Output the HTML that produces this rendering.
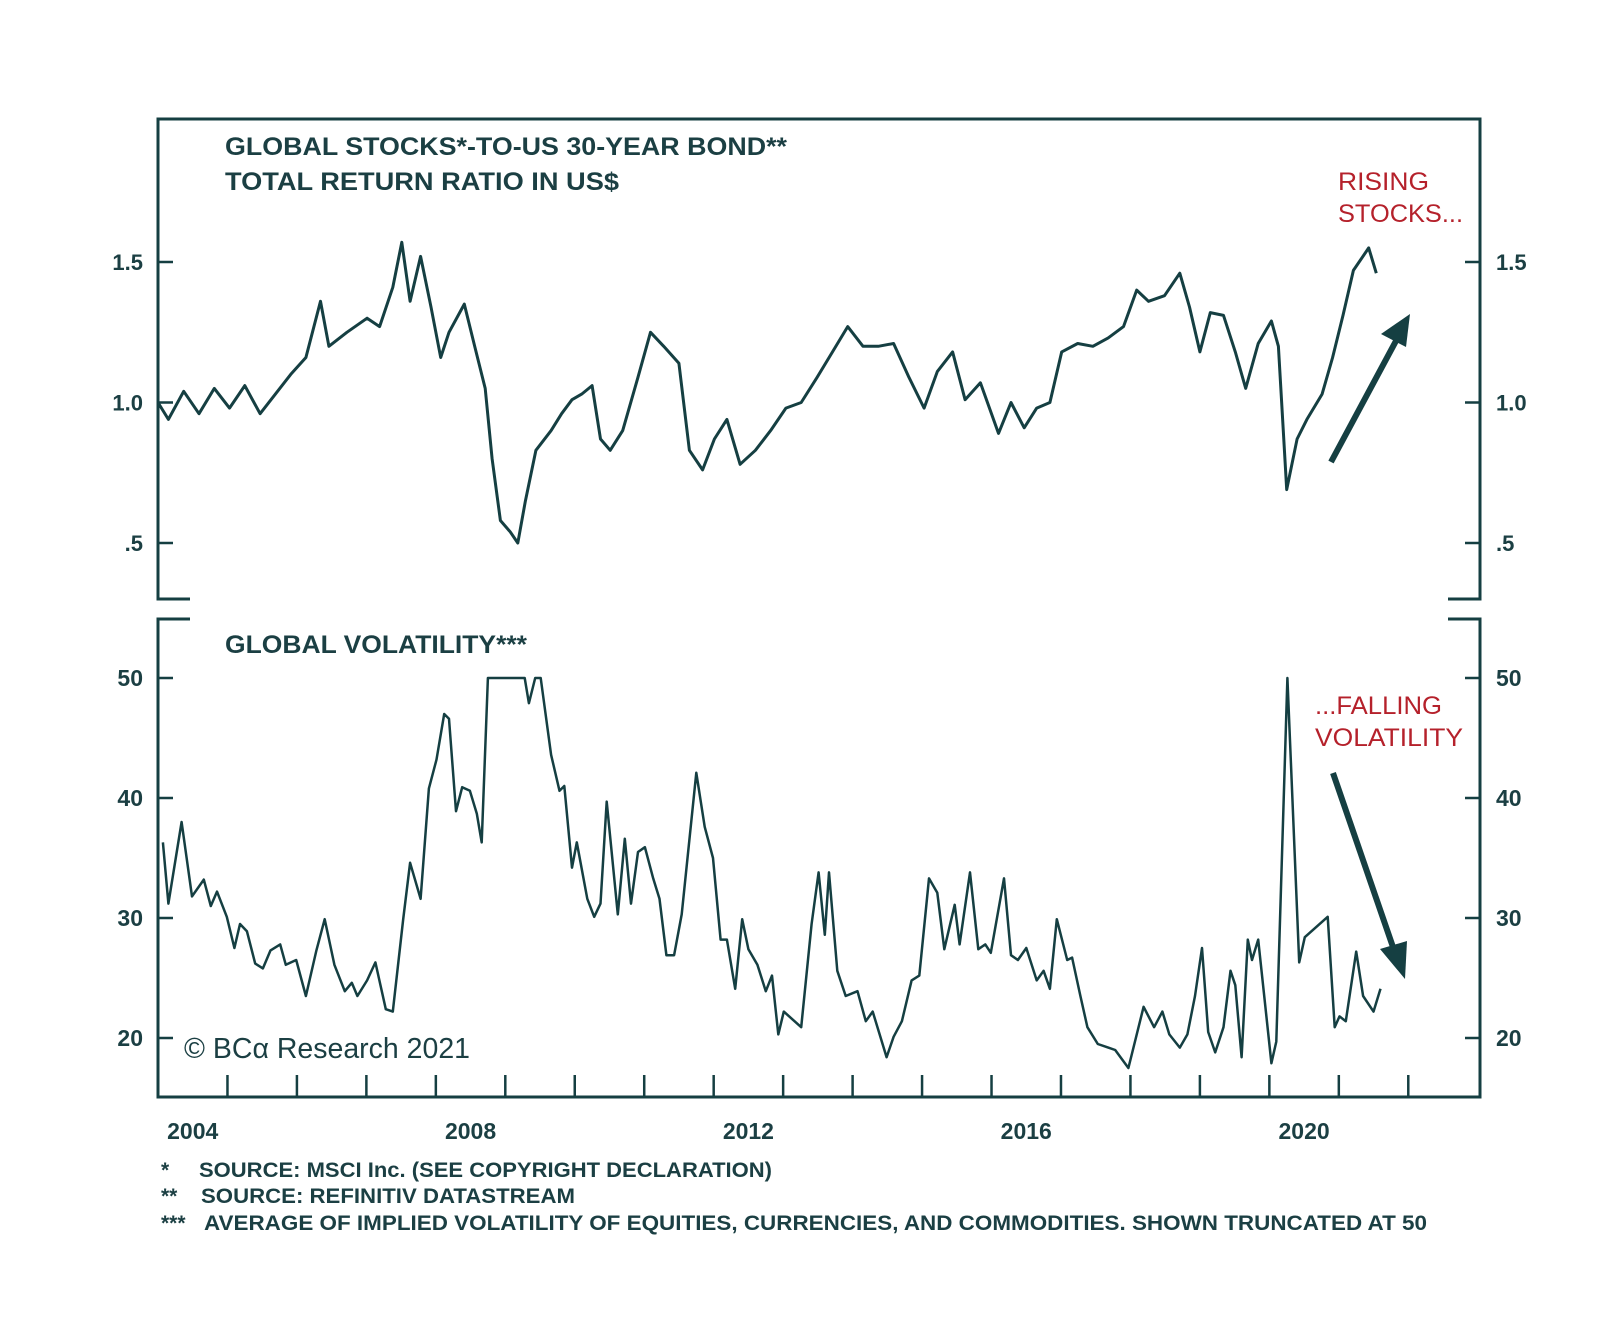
<!DOCTYPE html>
<html><head><meta charset="utf-8"><style>
html,body{margin:0;padding:0;background:#fff;}
svg{display:block;}
text{font-family:"Liberation Sans",sans-serif;}
</style></head>
<body>
<svg id="chart" width="1600" height="1321" viewBox="0 0 1600 1321" xmlns="http://www.w3.org/2000/svg">
<g id="frames"></g>
<text x="225" y="155" font-size="25" font-weight="bold" fill="#1b3f43" textLength="562" lengthAdjust="spacingAndGlyphs">GLOBAL STOCKS*-TO-US 30-YEAR BOND**</text>
<text x="225" y="190" font-size="25" font-weight="bold" fill="#1b3f43" textLength="394" lengthAdjust="spacingAndGlyphs">TOTAL RETURN RATIO IN US$</text>
<text x="1338" y="190" font-size="25" fill="#b5212b" textLength="91" lengthAdjust="spacingAndGlyphs">RISING</text>
<text x="1338" y="222" font-size="25" fill="#b5212b" textLength="125" lengthAdjust="spacingAndGlyphs">STOCKS...</text>
<text x="225" y="653" font-size="25" font-weight="bold" fill="#1b3f43" textLength="302" lengthAdjust="spacingAndGlyphs">GLOBAL VOLATILITY***</text>
<text x="1315" y="714" font-size="25" fill="#b5212b" textLength="127" lengthAdjust="spacingAndGlyphs">...FALLING</text>
<text x="1315" y="746" font-size="25" fill="#b5212b" textLength="148" lengthAdjust="spacingAndGlyphs">VOLATILITY</text>
<text x="184" y="1058" font-size="29" fill="#1b3f43" font-family="Liberation Serif, serif" textLength="286" lengthAdjust="spacingAndGlyphs">© BCα Research 2021</text>
<g fill="#1b3f43" font-size="21" font-weight="bold">
<text x="161" y="1177">*</text>
<text x="199" y="1177" textLength="573" lengthAdjust="spacingAndGlyphs">SOURCE: MSCI Inc. (SEE COPYRIGHT DECLARATION)</text>
<text x="161" y="1203">**</text>
<text x="201" y="1203" textLength="374" lengthAdjust="spacingAndGlyphs">SOURCE: REFINITIV DATASTREAM</text>
<text x="161" y="1230">***</text>
<text x="204" y="1230" textLength="1223" lengthAdjust="spacingAndGlyphs">AVERAGE OF IMPLIED VOLATILITY OF EQUITIES, CURRENCIES, AND COMMODITIES. SHOWN TRUNCATED AT 50</text>
</g>
<g>
<line x1="1331" y1="462" x2="1397" y2="339" stroke="#153f42" stroke-width="6"/>
<polygon points="1410,314 1381,334 1406,347" fill="#153f42"/>
</g>
<g>
<line x1="1333" y1="773" x2="1394" y2="950" stroke="#153f42" stroke-width="6"/>
<polygon points="1405,979 1380,949 1407,941" fill="#153f42"/>
</g>
</svg>
<script>
const stockDates=[2004.00,2004.15,2004.37,2004.59,2004.81,2005.03,2005.25,2005.47,2005.69,2005.91,2006.13,2006.34,2006.46,2006.72,2007.01,2007.19,2007.38,2007.51,2007.63,2007.78,2007.93,2008.07,2008.19,2008.41,2008.56,2008.71,2008.81,2008.93,2009.07,2009.18,2009.29,2009.44,2009.66,2009.81,2009.96,2010.10,2010.25,2010.37,2010.51,2010.69,2010.91,2011.09,2011.28,2011.50,2011.65,2011.84,2012.01,2012.19,2012.38,2012.60,2012.82,2013.04,2013.26,2013.49,2013.71,2013.93,2014.15,2014.37,2014.59,2014.81,2015.03,2015.22,2015.44,2015.62,2015.84,2016.10,2016.28,2016.47,2016.65,2016.84,2017.01,2017.24,2017.46,2017.68,2017.90,2018.09,2018.26,2018.49,2018.71,2018.85,2019.00,2019.15,2019.34,2019.51,2019.66,2019.84,2020.03,2020.13,2020.25,2020.40,2020.54,2020.76,2020.91,2021.06,2021.21,2021.43,2021.54];
const stockValues=[1.00,0.94,1.04,0.96,1.05,0.98,1.06,0.96,1.03,1.10,1.16,1.36,1.20,1.25,1.30,1.27,1.41,1.57,1.36,1.52,1.34,1.16,1.25,1.35,1.20,1.05,0.80,0.58,0.54,0.50,0.65,0.83,0.90,0.96,1.01,1.03,1.06,0.87,0.83,0.90,1.09,1.25,1.20,1.14,0.83,0.76,0.87,0.94,0.78,0.83,0.90,0.98,1.00,1.09,1.18,1.27,1.20,1.20,1.21,1.09,0.98,1.11,1.18,1.01,1.07,0.89,1.00,0.91,0.98,1.00,1.18,1.21,1.20,1.23,1.27,1.40,1.36,1.38,1.46,1.34,1.18,1.32,1.31,1.18,1.05,1.21,1.29,1.20,0.69,0.87,0.94,1.03,1.16,1.31,1.47,1.55,1.46];
const volDates=[2004.07,2004.15,2004.34,2004.49,2004.66,2004.76,2004.85,2004.99,2005.10,2005.18,2005.28,2005.40,2005.51,2005.62,2005.76,2005.84,2005.99,2006.13,2006.28,2006.40,2006.54,2006.69,2006.79,2006.87,2007.01,2007.13,2007.28,2007.38,2007.53,2007.63,2007.78,2007.90,2008.01,2008.12,2008.19,2008.29,2008.38,2008.49,2008.59,2008.66,2008.75,2009.28,2009.34,2009.43,2009.51,2009.66,2009.78,2009.85,2009.96,2010.03,2010.18,2010.28,2010.37,2010.46,2010.62,2010.72,2010.81,2010.91,2011.01,2011.13,2011.22,2011.32,2011.43,2011.54,2011.75,2011.87,2011.99,2012.10,2012.19,2012.31,2012.41,2012.50,2012.63,2012.75,2012.84,2012.93,2013.01,2013.26,2013.41,2013.51,2013.60,2013.66,2013.78,2013.90,2014.07,2014.19,2014.29,2014.49,2014.59,2014.71,2014.85,2014.96,2015.10,2015.22,2015.32,2015.47,2015.54,2015.69,2015.81,2015.91,2015.99,2016.18,2016.28,2016.38,2016.50,2016.65,2016.75,2016.84,2016.94,2017.09,2017.16,2017.28,2017.38,2017.53,2017.68,2017.78,2017.97,2018.19,2018.34,2018.46,2018.56,2018.71,2018.82,2018.93,2019.03,2019.12,2019.22,2019.34,2019.44,2019.51,2019.60,2019.69,2019.75,2019.84,2020.03,2020.10,2020.26,2020.43,2020.51,2020.84,2020.94,2021.01,2021.10,2021.25,2021.35,2021.50,2021.60];
const volValues=[36.3,31.2,38,31.8,33.2,31,32.2,30.1,27.5,29.5,28.9,26.2,25.8,27.3,27.8,26.1,26.5,23.5,27.3,29.9,26.1,23.9,24.6,23.5,24.8,26.3,22.4,22.2,29.9,34.6,31.6,40.8,43.2,47,46.6,38.9,40.9,40.6,38.7,36.3,50,50,47.9,50,50,43.6,40.6,41,34.2,36.3,31.6,30.1,31.2,39.7,30.3,36.6,31.2,35.5,35.9,33.3,31.6,26.9,26.9,30.3,42.1,37.6,35,28.2,28.2,24.1,29.9,27.4,26.1,23.9,25.2,20.3,22.2,20.9,29.5,33.8,28.6,33.8,25.6,23.5,23.9,21.4,22.2,18.4,20.1,21.4,24.8,25.2,33.3,32.1,27.4,31.1,27.8,33.8,27.4,27.8,27.1,33.3,26.9,26.5,27.5,24.8,25.6,24.1,29.9,26.5,26.7,23.5,20.9,19.5,19.2,19,17.5,22.6,20.9,22.2,20.3,19.2,20.3,23.5,27.5,20.5,18.8,20.9,25.6,24.4,18.4,28.2,26.5,28.2,17.9,19.7,50,26.3,28.4,30.1,20.9,21.8,21.4,27.2,23.5,22.2,24.1];
const topTicks=[1.5,1.0,0.5];
const topTickLabels=["1.5","1.0",".5"];
const botTicks=[50,40,30,20];
const botTickLabels=["50","40","30","20"];
const yearLabels=[2004,2008,2012,2016,2020];

const NS="http://www.w3.org/2000/svg";
const svg=document.getElementById('chart');
const frames=document.getElementById('frames');
const C="#153f42";
const L=158,R=1480,T1=119,B1=599,T2=619,B2=1097;
const x=y=>L+(y-2004)*69.46;
const yTop=v=>402.5-(v-1.0)*281;
const yBot=v=>1038-(v-20)*12.0;
function mk(tag,attrs,parent){const e=document.createElementNS(NS,tag);for(const k in attrs)e.setAttribute(k,attrs[k]);(parent||svg).appendChild(e);return e;}

let fp=mk('path',{d:`M${L+32},${B1}H${L}V${T1}H${R}V${B1}H${R-32} M${L+32},${T2}H${L}V${B2}H${R}V${T2}H${R-32}`,fill:'none',stroke:C,'stroke-width':3},frames);



topTicks.forEach((v,i)=>{
  const y=yTop(v);
  let t=mk('path',{d:`M${L},${y}h15M${R},${y}h-15`,stroke:C,'stroke-width':2.5});
  
  
  let a=mk('text',{x:143,y:y+8,'text-anchor':'end','font-size':22,'font-weight':'bold',fill:'#1b3f43'});a.textContent=topTickLabels[i];
  
  
  let b=mk('text',{x:1496,y:y+8,'font-size':22,'font-weight':'bold',fill:'#1b3f43'});b.textContent=topTickLabels[i];
  
  
});
botTicks.forEach((v,i)=>{
  const y=yBot(v);
  let t=mk('path',{d:`M${L},${y}h15M${R},${y}h-15`,stroke:C,'stroke-width':2.5});
  
  
  let a=mk('text',{x:143,y:y+8,'text-anchor':'end','font-size':23,'font-weight':'bold',fill:'#1b3f43'});a.textContent=botTickLabels[i];
  
  
  let b=mk('text',{x:1496,y:y+8,'font-size':23,'font-weight':'bold',fill:'#1b3f43'});b.textContent=botTickLabels[i];
  
  
});
for(let yr=2005;yr<=2022;yr++){
  let t=mk('line',{x1:x(yr),x2:x(yr),y1:B2-22,y2:B2,stroke:C,'stroke-width':2.5});
  
  
}
yearLabels.forEach(yr=>{
  let a=mk('text',{x:x(yr+0.5),y:1139,'text-anchor':'middle','font-size':23,'font-weight':'bold',fill:'#1b3f43'});a.textContent=yr;
  
  
});
let d1=stockDates.map((d,i)=>(i?'L':'M')+x(d).toFixed(1)+','+yTop(stockValues[i]).toFixed(1)).join('');
let p1=mk('path',{d:d1,fill:'none',stroke:C,'stroke-width':3,'stroke-linejoin':'round'});


let d2=volDates.map((d,i)=>(i?'L':'M')+x(d).toFixed(1)+','+yBot(volValues[i]).toFixed(1)).join('');
let p2=mk('path',{d:d2,fill:'none',stroke:C,'stroke-width':2.5,'stroke-linejoin':'round'});


</script>
</body></html>
